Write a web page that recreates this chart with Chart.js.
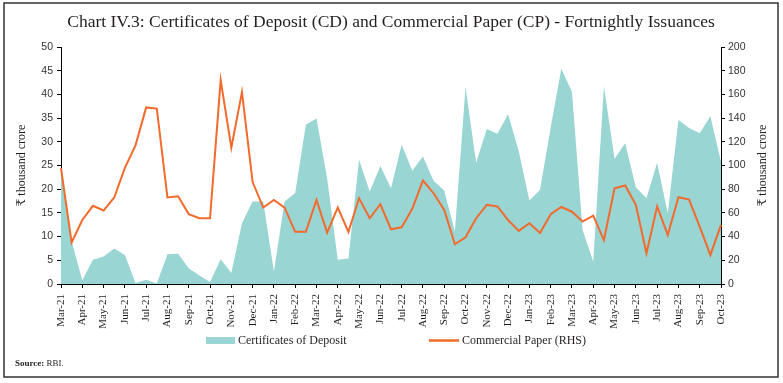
<!DOCTYPE html>
<html>
<head>
<meta charset="utf-8">
<script src="https://cdn.jsdelivr.net/npm/chart.js@4"></script>
<style>
  html, body { margin: 0; padding: 0; background: #fff; }
</style>
</head>
<body>
<canvas id="chart" width="783" height="383"></canvas>
<script>
// month tick labels (one label per month, two fortnights each)
const months = [
  "Mar-21", "Apr-21", "May-21", "Jun-21", "Jul-21", "Aug-21", "Sep-21", "Oct-21",
  "Nov-21", "Dec-21", "Jan-22", "Feb-22", "Mar-22", "Apr-22", "May-22", "Jun-22",
  "Jul-22", "Aug-22", "Sep-22", "Oct-22", "Nov-22", "Dec-22", "Jan-23", "Feb-23",
  "Mar-23", "Apr-23", "May-23", "Jun-23", "Jul-23", "Aug-23", "Sep-23", "Oct-23"
];

// Certificates of Deposit, ₹ thousand crore (LHS)
const cdValues = [
  24.0, 9.0, 0.8, 5.1, 5.8, 7.5, 6.1, 0.2, 0.9, 0.1,
  6.3, 6.4, 3.3, 1.8, 0.4, 5.2, 2.3, 12.8, 17.4, 17.4,
  2.6, 17.4, 19.2, 33.6, 34.9, 22.3, 5.1, 5.4, 26.2, 19.5,
  24.9, 20.2, 29.4, 23.9, 26.9, 21.8, 19.7, 11.1, 41.5, 25.6,
  32.7, 31.7, 35.8, 28.0, 17.6, 19.9, 33.0, 45.4, 40.5, 11.4,
  4.7, 41.7, 26.4, 29.7, 20.4, 18.1, 25.6, 14.9, 34.6, 32.9,
  31.8, 35.4, 25.8
];

// Commercial Paper, ₹ thousand crore (RHS)
const cpValues = [
  97.7, 35, 54, 66, 62, 73, 98, 117, 149, 148,
  73, 74, 59, 55.5, 55.5, 172, 115, 162, 86, 64.5,
  71, 64.5, 44, 44, 71, 43.4, 64.5, 44, 72.4, 55.5,
  67.3, 46.2, 47.9, 63.4, 87.3, 76.6, 62.5, 33.5, 39.4, 55.5,
  66.8, 65.4, 54, 44.8, 51.3, 43.1, 58.9, 65, 61, 52.7,
  57.7, 36.9, 80.8, 83.1, 66.8, 25.9, 65.4, 41.4, 73.2, 71.3,
  48.5, 24.5, 49.9
];

const fortnights = months.flatMap((m, i) => i < months.length - 1 ? [m, m] : [m]);

const CD_COLOR = "#99d5d3";
const CP_COLOR = "#f26a2c";
const SERIF = '"Liberation Serif", "DejaVu Serif", serif';
const SANS = '"Liberation Sans", Arial, sans-serif';

// title, axis titles, legend, source note and frame
const decor = {
  id: "decor",
  afterDraw(chart) {
    const ctx = chart.ctx;
    const area = chart.chartArea;
    const midY = (area.top + area.bottom) / 2;
    ctx.save();
    ctx.fillStyle = "#231f20";

    ctx.font = "17.5px " + SERIF;
    ctx.textAlign = "center";
    ctx.textBaseline = "middle";
    ctx.fillText("Chart IV.3: Certificates of Deposit (CD) and Commercial Paper (CP) - Fortnightly Issuances", 391, 22);

    ctx.font = "12px " + SERIF;
    [22, 763].forEach(x => {
      ctx.save();
      ctx.translate(x, midY);
      ctx.rotate(-Math.PI / 2);
      ctx.fillText("₹ thousand crore", 0, 0);
      ctx.restore();
    });

    // legend
    const ds = chart.data.datasets;
    ctx.textAlign = "left";
    ctx.fillStyle = CD_COLOR;
    ctx.fillRect(206, 337, 29, 7);
    ctx.fillStyle = "#231f20";
    ctx.fillText(ds[1].label, 238, 340.5);
    ctx.strokeStyle = CP_COLOR;
    ctx.lineWidth = 2.5;
    ctx.beginPath();
    ctx.moveTo(429, 340.5);
    ctx.lineTo(459, 340.5);
    ctx.stroke();
    ctx.fillText(ds[0].label, 462, 340.5);

    // source
    ctx.font = "bold 9px " + SERIF;
    ctx.fillText("Source:", 15, 364);
    const w = ctx.measureText("Source: ").width;
    ctx.font = "9px " + SERIF;
    ctx.fillText("RBI.", 15 + w, 364);

    ctx.strokeStyle = "#333";
    ctx.lineWidth = 1.5;
    ctx.strokeRect(4, 3, 774, 374);
    ctx.restore();
  }
};

new Chart(document.getElementById("chart"), {
  type: "line",
  data: {
    labels: fortnights,
    datasets: [
      {
        label: "Commercial Paper (RHS)",
        data: cpValues,
        yAxisID: "y1",
        borderColor: CP_COLOR,
        borderWidth: 2,
        pointRadius: 0,
        fill: false,
        tension: 0,
        order: 0
      },
      {
        label: "Certificates of Deposit",
        data: cdValues,
        yAxisID: "y",
        borderWidth: 0,
        borderColor: CD_COLOR,
        backgroundColor: CD_COLOR,
        pointRadius: 0,
        fill: "origin",
        tension: 0,
        order: 1
      }
    ]
  },
  options: {
    responsive: false,
    animation: false,
    devicePixelRatio: 1,
    layout: { padding: { top: 47, bottom: 39, left: 0, right: 0 } },
    plugins: {
      legend: { display: false },
      title: { display: false },
      tooltip: { enabled: false }
    },
    scales: {
      x: {
        offset: false,
        afterFit: s => { s.height = 60; },
        border: { display: true, color: "#000", width: 1 },
        grid: {
          drawOnChartArea: false,
          tickLength: 4,
          color: c => c.index % 2 ? "rgba(0,0,0,0)" : "#000"
        },
        ticks: {
          autoSkip: false,
          maxRotation: 90,
          minRotation: 90,
          padding: 6,
          color: "#231f20",
          font: { family: SERIF, size: 11 },
          callback: function (v, i) { return i % 2 ? "" : this.getLabelForValue(v); }
        }
      },
      y: {
        position: "left",
        min: 0,
        max: 50,
        afterFit: s => { s.width = 61; },
        border: { display: true, color: "#000", width: 1 },
        grid: { drawOnChartArea: false, tickLength: 4, color: "#000" },
        ticks: { stepSize: 5, padding: 4, color: "#333", font: { family: SANS, size: 10.5 } }
      },
      y1: {
        position: "right",
        min: 0,
        max: 200,
        afterFit: s => { s.width = 62; },
        border: { display: true, color: "#000", width: 1 },
        grid: { drawOnChartArea: false, tickLength: 4, color: "#000" },
        ticks: { stepSize: 20, padding: 3, color: "#333", font: { family: SANS, size: 10.5 } }
      }
    }
  },
  plugins: [decor]
});
</script>
</body>
</html>
